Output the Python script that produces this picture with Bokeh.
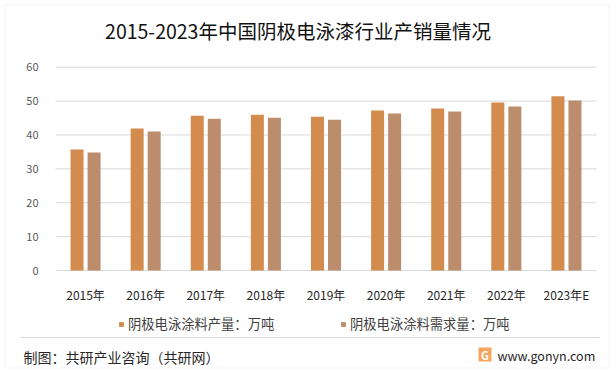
from bokeh.plotting import figure
from bokeh.models import (ColumnDataSource, Label, Legend, LegendItem, BoxAnnotation,
                          Range1d, FixedTicker)
from bokeh.transform import dodge
from bokeh.embed import file_html
from bokeh.resources import INLINE

years = ["2015年", "2016年", "2017年", "2018年", "2019年", "2020年", "2021年", "2022年", "2023年E"]
production = [35.7, 41.9, 45.7, 46.0, 45.4, 47.2, 47.8, 49.6, 51.4]
demand = [34.8, 41.0, 44.8, 45.1, 44.5, 46.3, 46.9, 48.4, 50.2]
series_names = ["阴极电泳涂料产量：万吨", "阴极电泳涂料需求量：万吨"]
y_ticks = [0, 10, 20, 30, 40, 50, 60]
title_text = "2015-2023年中国阴极电泳漆行业产销量情况"
source_text = "制图：共研产业咨询（共研网）"
site_text = "www.gonyn.com"

FONT = "Noto Sans CJK SC"
C_PROD = "#D38B4E"
C_DEM = "#BB8D6C"

# ---- canvas / plot-area geometry (pixels, top-left origin)
W, H = 612, 372
PL, PR = 55.0, 596.0      # plot area left / right
PT, PB = 66.7, 270.0      # plot area top (y=60) / bottom (y=0)
n = len(years)
y_max = y_ticks[-1]
ux = (PR - PL) / n
uy = (PB - PT) / y_max
x_range = Range1d(-PL / ux, n + (W - PR) / ux)
y_range = Range1d(-(H - PB) / uy, y_max + PT / uy)

centers = [i + 0.5 for i in range(n)]
src = ColumnDataSource(dict(xc=centers, prod=production, dem=demand))

p = figure(width=W, height=H, x_range=x_range, y_range=y_range,
           output_backend="svg", toolbar_location=None, min_border=0)
p.outline_line_color = None
p.grid.visible = False

# gridlines over the plot area
p.segment(x0=[0] * len(y_ticks), x1=[n] * len(y_ticks), y0=y_ticks, y1=y_ticks,
          line_color="#D9D9D9", line_width=1)

r1 = p.vbar(x=dodge("xc", -0.1417), top="prod", width=0.2163,
            source=src, fill_color=C_PROD, line_color=None)
r2 = p.vbar(x=dodge("xc", 0.1417), top="dem", width=0.2163,
            source=src, fill_color=C_DEM, line_color=None)

# axes drawn inside the canvas at fixed locations
p.yaxis.fixed_location = 0
p.yaxis.ticker = FixedTicker(ticks=y_ticks)
p.yaxis.axis_line_color = None
p.yaxis.major_tick_line_color = None
p.yaxis.minor_tick_line_color = None
p.yaxis.major_label_text_font = FONT
p.yaxis.major_label_text_font_size = "11px"
p.yaxis.major_label_text_color = "#595959"
p.yaxis.major_label_standoff = 11

p.xaxis.fixed_location = 0
p.xaxis.ticker = FixedTicker(ticks=centers)
p.xaxis.major_label_overrides = {c: y for c, y in zip(centers, years)}
p.xaxis.axis_line_color = None
p.xaxis.major_tick_line_color = None
p.xaxis.minor_tick_line_color = None
p.xaxis.major_tick_out = 0
p.xaxis.major_label_text_font = FONT
p.xaxis.major_label_text_font_size = "12px"
p.xaxis.major_label_text_color = "#262626"
p.xaxis.major_label_standoff = 15


def sx(px):
    return px


def sy(py):
    return H - py


def box(l, r, t, b, **kw):
    return BoxAnnotation(left=sx(l), right=sx(r), top=sy(t), bottom=sy(b),
                         left_units="screen", right_units="screen",
                         top_units="screen", bottom_units="screen", **kw)


# outer border
p.add_layout(box(4.5, 608.5, 4.5, 367.5, fill_alpha=0, line_color="#D9D9D9", line_width=1))

p.add_layout(Label(x=sx(297.5), y=sy(30), x_units="screen", y_units="screen",
                   text=title_text, text_font=FONT, text_font_size="19.5px",
                   text_color="#111111", text_align="center", text_baseline="middle"))

for rend, name, gx in [(r1, series_names[0], 118), (r2, series_names[1], 340)]:
    leg = Legend(items=[LegendItem(label=name, renderers=[rend])],
                 location=(sx(gx), sy(333)), orientation="horizontal",
                 glyph_width=6, glyph_height=6, label_standoff=4,
                 padding=0, margin=0, border_line_color=None,
                 background_fill_alpha=0, label_text_font=FONT,
                 label_text_font_size="13.3px", label_text_color="#404040",
                 label_height=16)
    p.add_layout(leg, "center")

# separator
p.add_layout(box(20, 599, 336.5, 337.5, fill_color="#D9D9D9", fill_alpha=1, line_color=None))

p.add_layout(Label(x=sx(23), y=sy(356), x_units="screen", y_units="screen",
                   text=source_text, text_font=FONT, text_font_size="14px",
                   text_color="#262626", text_align="left", text_baseline="middle"))

# logo
p.add_layout(box(478, 491, 347, 361, fill_color="#F6A460", fill_alpha=1, line_color=None))
p.add_layout(Label(x=sx(484.5), y=sy(354), x_units="screen", y_units="screen",
                   text="G", text_font=FONT, text_font_size="11px", text_font_style="bold",
                   text_color="white", text_align="center", text_baseline="middle"))

p.add_layout(Label(x=sx(497), y=sy(355), x_units="screen", y_units="screen",
                   text=site_text, text_font=FONT, text_font_size="12.5px",
                   text_color="#262626", text_align="left", text_baseline="middle"))

open("out.html", "w").write(file_html(p, INLINE))
